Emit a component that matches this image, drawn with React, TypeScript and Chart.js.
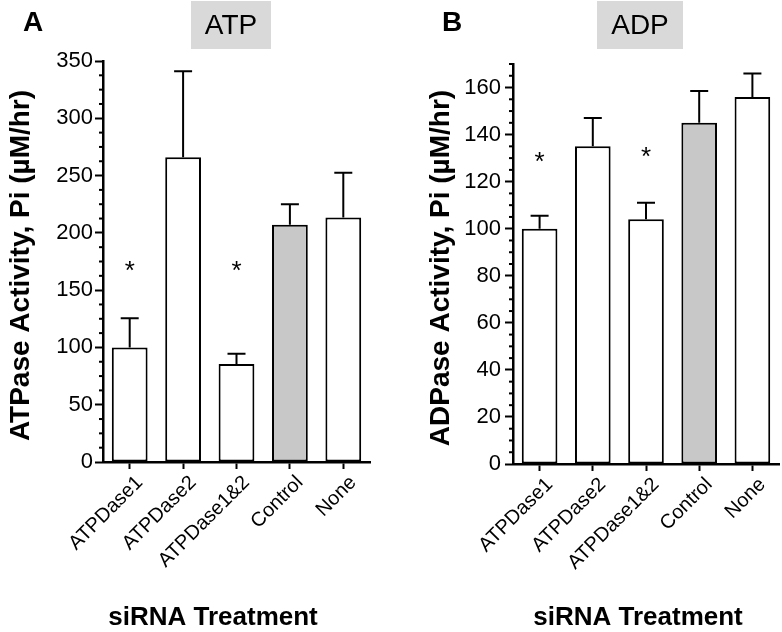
import React, { useEffect, useRef } from "react";
import { Chart, registerables } from "chart.js";

Chart.register(...registerables);

const FONT = "'Liberation Sans', Arial, Helvetica, sans-serif";

// ---------- data ----------
const categories = ["ATPDase1", "ATPDase2", "ATPDase1&2", "Control", "None"];
const barFills = ["#ffffff", "#ffffff", "#ffffff", "#c8c8c8", "#ffffff"];

const atpMeans = [100, 266, 85.5, 207, 213.5];
const atpErrors = [25.5, 75, 9, 18, 39];
const atpStars: (number | null)[] = [170, null, 170, null, null];

const adpMeans = [100, 135, 104, 145, 156];
const adpErrors = [5.5, 12, 7, 13.5, 10];
const adpStars: (number | null)[] = [130, null, 132, null, null];

const atpYMax = 350;
const atpYStep = 50;
const atpYMinor = 12.5;
const adpYMax = 170;
const adpYStep = 20;
const adpYMinor = 5;

type Panel = {
  letter: string;
  title: string;
  yTitle: string;
  means: number[];
  errors: number[];
  stars: (number | null)[];
  yMax: number;
  yStep: number;
  yMinor: number;
  width: number;
  yAxisWidth: number;
  padTop: number;
  padRight: number;
  xAxisHeight: number;
  tickPad: number;
  box: { x: number; y: number; w: number; h: number };
  letterX: number;
  yTitleX: number;
  xTitleX: number;
};

const panels: Panel[] = [
  {
    letter: "A",
    title: "ATP",
    yTitle: "ATPase Activity, Pi (\u00b5M/hr)",
    means: atpMeans,
    errors: atpErrors,
    stars: atpStars,
    yMax: atpYMax,
    yStep: atpYStep,
    yMinor: atpYMinor,
    width: 400,
    yAxisWidth: 103,
    padTop: 61,
    padRight: 30,
    xAxisHeight: 170,
    tickPad: 2,
    box: { x: 191, y: 1, w: 80, h: 48 },
    letterX: 23,
    yTitleX: 21,
    xTitleX: 213,
  },
  {
    letter: "B",
    title: "ADP",
    yTitle: "ADPase Activity, Pi (\u00b5M/hr)",
    means: adpMeans,
    errors: adpErrors,
    stars: adpStars,
    yMax: adpYMax,
    yStep: adpYStep,
    yMinor: adpYMinor,
    width: 382,
    yAxisWidth: 113,
    padTop: 64,
    padRight: 3,
    xAxisHeight: 168,
    tickPad: 4,
    box: { x: 197, y: 1, w: 86, h: 48 },
    letterX: 42,
    yTitleX: 41,
    xTitleX: 238,
  },
];

function makeOverlay(p: Panel) {
  return {
    id: "overlay" + p.letter,
    afterDatasetsDraw(chart: any) {
      const ctx = chart.ctx;
      const y = chart.scales.y;
      const meta = chart.getDatasetMeta(0);
      ctx.save();
      ctx.strokeStyle = "#000";
      ctx.lineWidth = 2;
      meta.data.forEach((bar: any, i: number) => {
        const base = y.getPixelForValue(p.means[i]);
        const top = y.getPixelForValue(p.means[i] + p.errors[i]);
        ctx.beginPath();
        ctx.moveTo(bar.x, base);
        ctx.lineTo(bar.x, top);
        ctx.moveTo(bar.x - 9, top);
        ctx.lineTo(bar.x + 9, top);
        ctx.stroke();
      });
      // asterisks
      ctx.fillStyle = "#000";
      ctx.font = `26px ${FONT}`;
      ctx.textAlign = "center";
      ctx.textBaseline = "alphabetic";
      meta.data.forEach((bar: any, i: number) => {
        const s = p.stars[i];
        if (s == null) return;
        ctx.fillText("*", bar.x, y.getPixelForValue(s) + 26 * 0.45);
      });
      ctx.restore();
    },
    afterDraw(chart: any) {
      const ctx = chart.ctx;
      const y = chart.scales.y;
      const axisX = chart.chartArea.left;
      ctx.save();
      // minor ticks
      ctx.strokeStyle = "#000";
      ctx.lineWidth = 2;
      const n = Math.round(p.yMax / p.yMinor);
      const per = Math.round(p.yStep / p.yMinor);
      for (let k = 0; k <= n; k++) {
        if (k % per === 0) continue;
        const py = y.getPixelForValue(k * p.yMinor);
        ctx.beginPath();
        ctx.moveTo(axisX - 4, py);
        ctx.lineTo(axisX, py);
        ctx.stroke();
      }
      // title box
      ctx.fillStyle = "#d9d9d9";
      ctx.fillRect(p.box.x, p.box.y, p.box.w, p.box.h);
      ctx.fillStyle = "#000";
      ctx.font = `28px ${FONT}`;
      ctx.textAlign = "center";
      ctx.textBaseline = "middle";
      ctx.fillText(p.title, p.box.x + p.box.w / 2, p.box.y + p.box.h / 2 + 1);
      // panel letter
      ctx.font = `bold 28px ${FONT}`;
      ctx.textAlign = "left";
      ctx.textBaseline = "alphabetic";
      ctx.fillText(p.letter, p.letterX, 31);
      // x title
      ctx.font = `bold 26px ${FONT}`;
      ctx.textAlign = "center";
      ctx.fillText("siRNA Treatment", p.xTitleX, 625);
      // y title
      ctx.save();
      ctx.translate(p.yTitleX, (chart.chartArea.top + chart.chartArea.bottom) / 2 + 4);
      ctx.rotate(-Math.PI / 2);
      ctx.font = `bold 28px ${FONT}`;
      ctx.textAlign = "center";
      ctx.textBaseline = "middle";
      ctx.fillText(p.yTitle, 0, 0);
      ctx.restore();
      ctx.restore();
    },
  };
}

function PanelChart({ p }: { p: Panel }) {
  const ref = useRef<HTMLCanvasElement | null>(null);
  useEffect(() => {
    if (!ref.current) return;
    const chart = new Chart(ref.current, {
      type: "bar",
      data: {
        labels: categories,
        datasets: [
          {
            data: p.means,
            backgroundColor: barFills,
            borderColor: "#000",
            borderWidth: 2,
            borderSkipped: false,
            barPercentage: 0.67,
            categoryPercentage: 1,
          },
        ],
      },
      options: {
        animation: false,
        responsive: false,
        devicePixelRatio: 1,
        layout: { padding: { top: p.padTop, right: p.padRight, left: 0, bottom: 0 } },
        plugins: { legend: { display: false }, tooltip: { enabled: false }, title: { display: false } },
        scales: {
          x: {
            afterFit: (s: any) => {
              s.height = p.xAxisHeight;
            },
            grid: {
              display: true,
              drawOnChartArea: false,
              drawTicks: true,
              offset: false,
              tickLength: 7,
              tickWidth: 2,
              tickColor: "#000",
            },
            border: { display: true, color: "#000", width: 2.5 },
            ticks: {
              color: "#000",
              font: { family: FONT, size: 20 },
              minRotation: 45,
              maxRotation: 45,
              autoSkip: false,
              padding: 2,
              labelOffset: 10,
            },
          },
          y: {
            min: 0,
            max: p.yMax,
            afterFit: (s: any) => {
              s.width = p.yAxisWidth;
            },
            grid: {
              display: true,
              drawOnChartArea: false,
              drawTicks: true,
              tickLength: 8,
              tickWidth: 2,
              tickColor: "#000",
            },
            border: { display: true, color: "#000", width: 2.5 },
            ticks: {
              stepSize: p.yStep,
              includeBounds: false,
              color: "#000",
              font: { family: FONT, size: 22 },
              padding: p.tickPad,
            },
          },
        },
      },
      plugins: [makeOverlay(p)],
    });
    return () => chart.destroy();
  }, [p]);
  return (
    <canvas
      ref={ref}
      width={p.width}
      height={632}
      style={{ display: "block", width: p.width, height: 632 }}
    />
  );
}

export default function App() {
  return (
    <div
      style={{
        position: "absolute",
        left: 0,
        top: 0,
        width: 782,
        height: 632,
        background: "#fff",
        display: "flex",
        flexDirection: "row",
      }}
    >
      <PanelChart p={panels[0]} />
      <PanelChart p={panels[1]} />
    </div>
  );
}
